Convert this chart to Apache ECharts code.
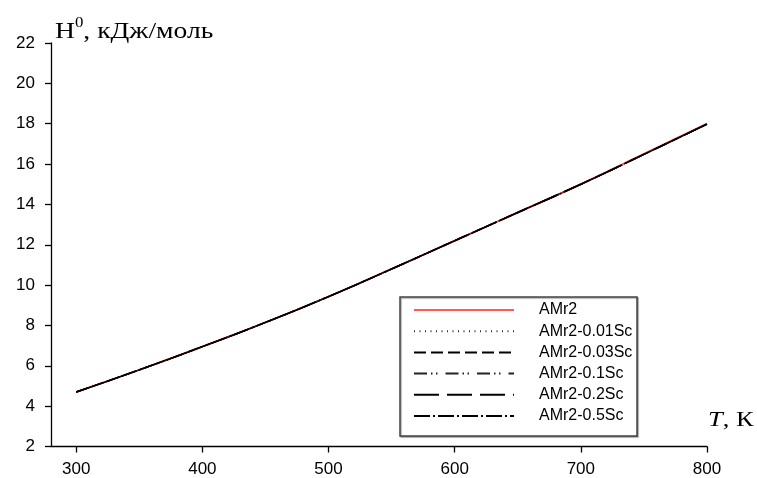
<!DOCTYPE html>
<html>
<head>
<meta charset="utf-8">
<script src="https://cdn.jsdelivr.net/npm/echarts@6/dist/echarts.min.js"></script>
<style>
  html, body { margin: 0; padding: 0; background: #fff; }
  #chart { width: 757px; height: 478px; }
</style>
</head>
<body>
<div id="chart"></div>
<script>
// Temperature, K
const temperatures = [300, 350, 400, 450, 500, 550, 600, 650, 700, 750, 800];

// Enthalpy H0, kJ/mol, per alloy
const hAMr2      = [4.70, 5.80, 6.95, 8.15, 9.43, 10.80, 12.20, 13.60, 15.00, 16.50, 18.00];
const hAMr2Sc001 = [4.70, 5.80, 6.95, 8.15, 9.43, 10.80, 12.20, 13.60, 15.00, 16.48, 17.98];
const hAMr2Sc003 = [4.70, 5.80, 6.95, 8.15, 9.43, 10.80, 12.20, 13.60, 15.00, 16.48, 17.98];
const hAMr2Sc01  = [4.70, 5.80, 6.95, 8.15, 9.43, 10.80, 12.20, 13.60, 15.00, 16.48, 17.98];
const hAMr2Sc02  = [4.70, 5.80, 6.95, 8.15, 9.43, 10.80, 12.20, 13.60, 15.00, 16.48, 17.98];
const hAMr2Sc05  = [4.70, 5.80, 6.95, 8.15, 9.43, 10.80, 12.20, 13.60, 15.00, 16.48, 17.98];

const seriesNames = ['AMr2', 'AMr2-0.01Sc', 'AMr2-0.03Sc', 'AMr2-0.1Sc', 'AMr2-0.2Sc', 'AMr2-0.5Sc'];
const seriesValues = [hAMr2, hAMr2Sc001, hAMr2Sc003, hAMr2Sc01, hAMr2Sc02, hAMr2Sc05];

// axis extent and labelled ticks
const xMin = 280, xMax = 800;
const xTicks = [300, 400, 500, 600, 700, 800];
const yMin = 2, yMax = 22, yStep = 2;

// line appearance per series
const styles = [
  { color: '#ff5a5a', width: 2,   type: 'solid' },
  { color: '#333333', width: 1.2, type: [1, 4.5] },
  { color: '#000000', width: 1.5, type: [12, 5] },
  { color: '#222222', width: 1.5, type: [13, 4, 1.5, 3.5, 1.5, 8] },
  { color: '#000000', width: 1.5, type: [25, 8] },
  { color: '#000000', width: 1.5, type: [16, 3, 2, 3] }
];

const series = seriesNames.map((name, i) => ({
  name: name,
  type: 'line',
  data: temperatures.map((t, j) => [t, seriesValues[i][j]]),
  smooth: true,
  showSymbol: false,
  symbol: 'none',
  lineStyle: styles[i],
  itemStyle: { color: styles[i].color },
  z: 2 + i
}));

const sans = 'Liberation Sans, Arial, sans-serif';
const serif = 'Liberation Serif, Times New Roman, serif';

const chart = echarts.init(document.getElementById('chart'), null, { renderer: 'canvas' });
chart.setOption({
  animation: false,
  backgroundColor: '#ffffff',
  grid: { left: 51, right: 50, top: 43, bottom: 31.5, containLabel: false },
  xAxis: {
    type: 'value',
    min: xMin,
    max: xMax,
    interval: 20,
    axisLine: { show: true, onZero: false, lineStyle: { color: '#000', width: 1.3 } },
    axisTick: { show: true, length: 6, customValues: xTicks, lineStyle: { color: '#000', width: 1.3 } },
    axisLabel: { color: '#000', fontFamily: sans, fontSize: 17, margin: 14, customValues: xTicks },
    splitLine: { show: false }
  },
  yAxis: {
    type: 'value',
    min: yMin,
    max: yMax,
    interval: yStep,
    axisLine: { show: true, onZero: false, lineStyle: { color: '#000', width: 1.3 } },
    axisTick: { show: true, length: 6, lineStyle: { color: '#000', width: 1.3 } },
    axisLabel: { color: '#000', fontFamily: sans, fontSize: 17, margin: 16 },
    splitLine: { show: false }
  },
  legend: {
    orient: 'vertical',
    left: 400,
    top: 302,
    padding: [0, 0, 0, 13],
    itemWidth: 100,
    itemHeight: 14,
    itemGap: 5.2,
    itemStyle: { color: 'rgba(0,0,0,0)', borderColor: 'rgba(0,0,0,0)', borderWidth: 0, opacity: 0 },
    textStyle: { color: '#000', fontFamily: sans, fontSize: 16, padding: [0, 0, 0, 20] },
    data: seriesNames
  },
  graphic: [
    {
      type: 'rect',
      z: 1,
      shape: { x: 400, y: 297, width: 237, height: 139 },
      style: {
        fill: '#ffffff',
        stroke: '#444444',
        lineWidth: 1.5,
        shadowColor: 'rgba(0,0,0,0.35)',
        shadowOffsetX: 1,
        shadowOffsetY: 1,
        shadowBlur: 1
      }
    },
    {
      type: 'text',
      x: 55,
      y: 16,
      scaleX: 1.2,
      style: {
        text: '{m|H}{s|0}{m|, кДж/моль}',
        rich: {
          m: { fontFamily: serif, fontSize: 23, fill: '#000', verticalAlign: 'bottom' },
          s: { fontFamily: serif, fontSize: 14, fill: '#000', verticalAlign: 'top', padding: [0, 0, 13, 0] }
        }
      }
    },
    {
      type: 'text',
      x: 708,
      y: 409,
      scaleX: 1.2,
      style: {
        text: '{i|T}{m|, К}',
        rich: {
          i: { fontFamily: serif, fontStyle: 'italic', fontSize: 22, fill: '#000' },
          m: { fontFamily: serif, fontSize: 22, fill: '#000' }
        }
      }
    }
  ],
  series: series
});
</script>
</body>
</html>
